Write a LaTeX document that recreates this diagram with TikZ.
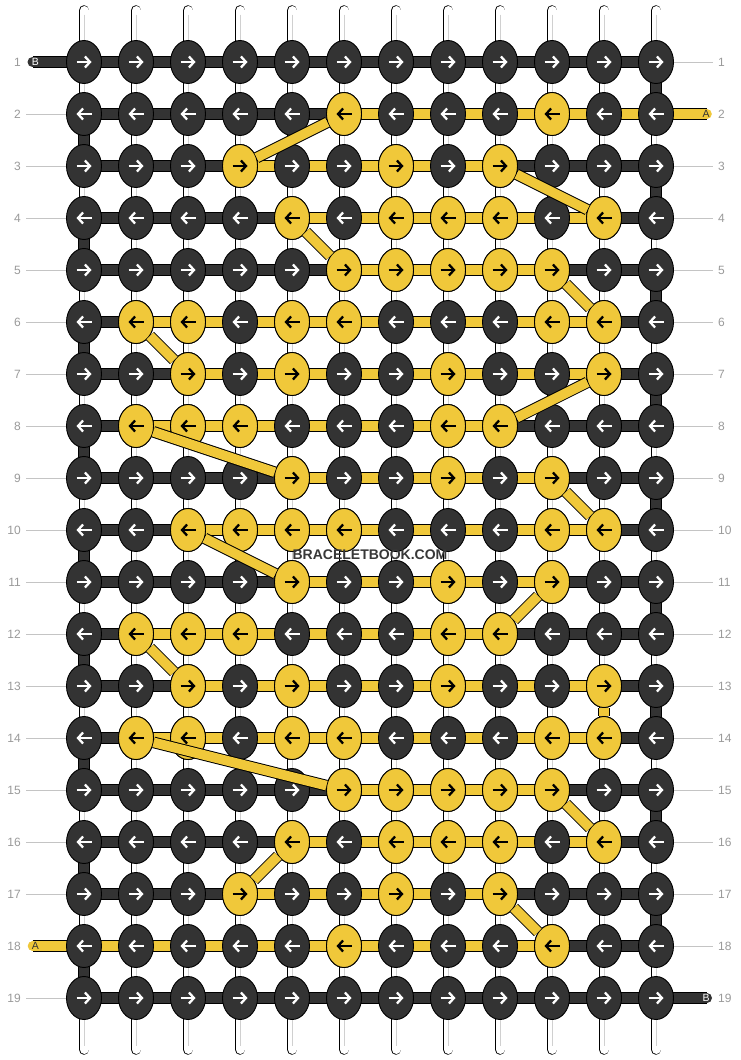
\documentclass[tikz,border=0pt]{standalone}
\usepackage{fontspec}
\setmainfont{Liberation Sans}
\usepackage{tikz}
\usetikzlibrary{positioning,shapes,arrows.meta}

\definecolor{darkknot}{HTML}{333333}
\definecolor{yellowknot}{HTML}{F0C83A}
\definecolor{guide}{HTML}{C4C4C4}
\definecolor{rownum}{HTML}{9A9A9A}

\pgfdeclarelayer{paper}
\pgfdeclarelayer{strings}
\pgfdeclarelayer{threads}
\pgfdeclarelayer{front}
\pgfsetlayers{paper,strings,threads,main,front}

\tikzset{
  knot/.style={ellipse,draw=black,line width=0.9,fill=darkknot,minimum width=35,minimum height=43,inner sep=0},
  yknot/.style={knot,fill=yellowknot},
  arr/.style={line width=2.3,-{Straight Barb[length=5pt,width=11pt]}},
  vstring/.style={draw=white,line width=9,line cap=round,preaction={draw=black,line width=10.6,line cap=round}},
  vcore/.style={draw=guide!80,line width=0.7},
  dthread/.style={draw=darkknot,line width=10,preaction={draw=black,line width=12}},
  ythread/.style={draw=yellowknot,line width=9.6,preaction={draw=black,line width=11.6}},
  guideline/.style={draw=guide,line width=0.8},
  rowlabel/.style={text=rownum,font=\fontsize{12}{12}\selectfont,inner sep=0},
  endlabel/.style={font=\fontsize{10.5}{10.5}\selectfont,inner sep=0},
  wmark/.style={text=black!78,font=\bfseries\fontsize{14}{14}\selectfont,inner sep=0}
}

\begin{document}
\begin{tikzpicture}[x=1pt,y=-1pt]
\useasboundingbox (0,0) rectangle (740,1060);
\begin{pgfonlayer}{paper}
\fill[white] (0,0) rectangle (740,1060);
\end{pgfonlayer}

\foreach \r in {1,...,19}{
  \pgfmathsetmacro\ax{7.5-15*mod(\r,2)}
  \pgfmathsetmacro\bx{15*mod(\r,2)-7.5}
  \foreach \c in {1,...,12}{
    \node[knot] (k\r-\c) at ({32+52*\c},{10+52*\r}) {};
    \draw[arr,draw=white] ([xshift=\ax pt]k\r-\c.center) -- ([xshift=\bx pt]k\r-\c.center);
  }
}
\foreach \r/\cs in {2/{6,10},3/{4,7,9},4/{5,7,8,9,11},5/{6,7,8,9,10},6/{2,3,5,6,10,11},7/{3,5,8,11},8/{2,3,4,8,9},9/{5,8,10},10/{3,4,5,6,10,11},11/{5,8,10},12/{2,3,4,8,9},13/{3,5,8,11},14/{2,3,5,6,10,11},15/{6,7,8,9,10},16/{5,7,8,9,11},17/{4,7,9},18/{6,10}}{
  \pgfmathsetmacro\ax{7.5-15*mod(\r,2)}
  \pgfmathsetmacro\bx{15*mod(\r,2)-7.5}
  \foreach \c in \cs{
    \node[yknot] (k\r-\c) at ({32+52*\c},{10+52*\r}) {};
    \draw[arr,draw=black] ([xshift=\ax pt]k\r-\c.center) -- ([xshift=\bx pt]k\r-\c.center);
  }
}

\foreach \r in {1,...,19}{
  \node[rowlabel,anchor=east] (ln\r) at (21,{10+52*\r}) {\r};
  \node[rowlabel,anchor=west] (rn\r) at (718,{10+52*\r}) {\r};
}

\coordinate (endB1) at (32.5,62);
\coordinate (endA2) at (707,114);
\coordinate (endA18) at (32.5,946);
\coordinate (endB19) at (707,998);
\node[endlabel,text=white] (labB1) at (35.5,62) {B};
\node[endlabel,text=black!80] (labA2) at (706,114) {A};
\node[endlabel,text=black!80] (labA18) at (35.5,946) {A};
\node[endlabel,text=white] (labB19) at (706,998) {B};

\begin{pgfonlayer}{strings}
\foreach \c in {1,...,12}{
  \coordinate (top\c) at ({32+52*\c},10.5);
  \coordinate (bot\c) at ({32+52*\c},1049.5);
  \draw[vstring] (top\c) -- (bot\c);
  \draw[vcore] ([yshift=-4pt]top\c) -- ([yshift=4pt]bot\c);
}
\foreach \r in {2,...,17,19}
  \draw[guideline] ([xshift=5pt]ln\r.east) -- (k\r-1.center);
\foreach \r in {1,3,4,...,18}
  \draw[guideline] (k\r-12.center) -- ([xshift=-5pt]rn\r.west);
\end{pgfonlayer}

\begin{pgfonlayer}{threads}
\foreach \r in {2,...,18}
  \draw[dthread] (k\r-1.center) -- (k\r-12.center);
\draw[dthread,line cap=round] (endB1) -- (k1-12.center);
\draw[dthread,line cap=round] (k19-1.center) -- (endB19);
\foreach \r in {1,3,...,17}{
  \pgfmathtruncatemacro\n{\r+1}
  \draw[dthread] (k\r-12.center) -- (k\n-12.center);
}
\foreach \r in {2,4,...,18}{
  \pgfmathtruncatemacro\n{\r+1}
  \draw[dthread] (k\r-1.center) -- (k\n-1.center);
}
\foreach \r/\a/\b in {3/4/9,4/5/11,5/6/10,6/2/11,7/3/11,8/2/9,9/5/10,10/3/11,11/5/10,12/2/9,13/3/11,14/2/11,15/6/10,16/5/11,17/4/9}
  \draw[ythread] (k\r-\a.center) -- (k\r-\b.center);
\draw[ythread,line cap=round] (k2-6.center) -- (endA2);
\draw[ythread,line cap=round] (endA18) -- (k18-10.center);
\end{pgfonlayer}

\begin{pgfonlayer}{front}
\foreach \r/\a/\n/\b in {2/6/3/4,3/9/4/11,4/5/5/6,5/10/6/11,6/2/7/3,7/11/8/9,8/2/9/5,9/10/10/11,10/3/11/5,11/10/12/9,12/2/13/3,13/11/14/11,14/2/15/6,15/10/16/11,16/5/17/4,17/9/18/10}
  \draw[ythread] (k\r-\a) -- (k\n-\b);
\node[wmark] (brand) at (370,555) {BRACELETBOOK.COM};
\end{pgfonlayer}
\end{tikzpicture}
\end{document}
